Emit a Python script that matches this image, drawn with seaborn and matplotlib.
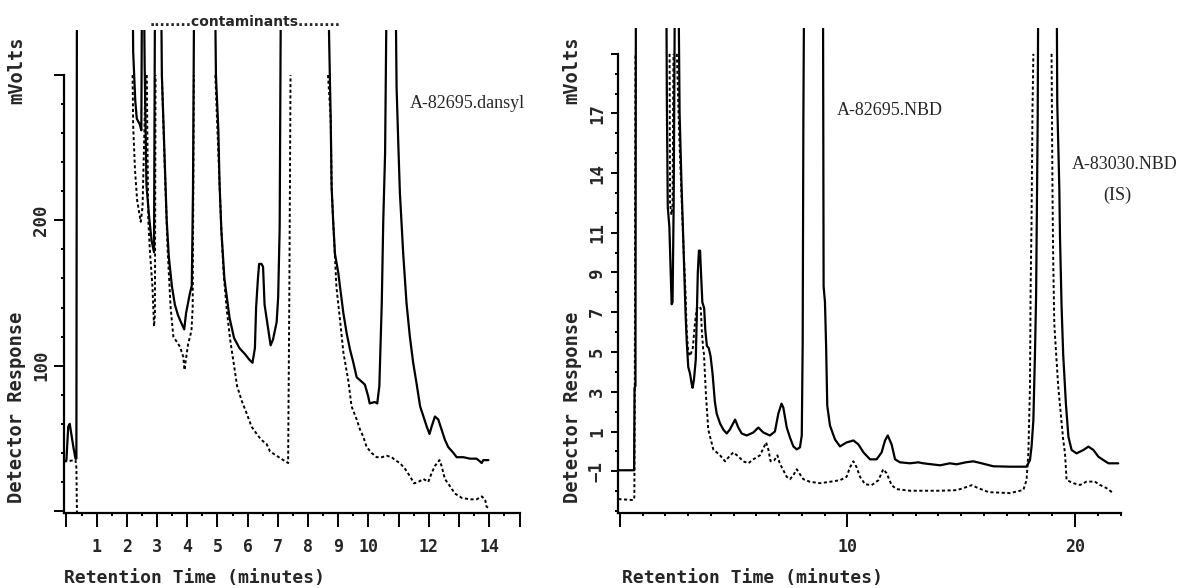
import numpy as np
import pandas as pd
import seaborn as sns
import matplotlib.pyplot as plt
from matplotlib.ticker import FixedLocator, MultipleLocator

sns.set_style('ticks')
plt.rcParams['font.family'] = ['DejaVu Sans Mono', 'DejaVu Sans']

nan = np.nan

# left chromatogram (dansyl), mVolts vs minutes; nan = trace off scale
left_solid_t = [-0.08, 0.0, 0.06, 0.11, 0.17, 0.23, 0.30, 0.33, 0.35, nan,
                2.18, 2.21, 2.28, 2.33, 2.43, 2.48, 2.51, nan,
                2.55, 2.59, 2.65, 2.74, 2.82, 2.90, 2.94, nan,
                3.12, 3.16, 3.24, 3.32, 3.39, 3.49, 3.59, 3.69, 3.79, 3.90, 3.96, 4.09, 4.15, 4.19, 4.24, nan,
                4.90, 4.95, 5.03, 5.07, 5.13, 5.23, 5.40, 5.55, 5.73, 5.91, 6.06, 6.16, 6.24, 6.28, 6.34,
                6.38, 6.46, 6.51, 6.56, 6.66, 6.76, 6.84, 6.96, 7.01, 7.06, 7.11, nan,
                8.64, 8.70, 8.75, 8.78, 8.83, 8.89, 9.00, 9.06, 9.17, 9.28, 9.39, 9.50, 9.61, 9.72, 9.88,
                9.99, 10.04, 10.21, 10.29, 10.36, 10.44, 10.49, 10.55, 10.62, nan,
                10.88, 10.93, 10.99, 11.04, 11.15, 11.26, 11.37, 11.48, 11.59, 11.71, 11.82, 11.93, 12.02,
                12.09, 12.20, 12.31, 12.42, 12.53, 12.64, 12.81, 12.92, 13.14, 13.36, 13.58, 13.75, 13.80, 13.97]
left_solid_v = [34, 35, 58, 60, 52, 44, 36, 36, 400, nan,
                400, 316, 282, 270, 266, 262, 400, nan,
                400, 307, 224, 202, 186, 178, 400, nan,
                400, 300, 250, 200, 175, 155, 142, 135, 130, 125, 136, 150, 155, 220, 400, nan,
                400, 300, 262, 225, 193, 160, 133, 119, 112, 108, 104, 102, 112, 140, 160,
                170, 170, 168, 142, 128, 114, 118, 130, 147, 195, 400, nan,
                400, 322, 269, 223, 200, 177, 164, 154, 136, 122, 111, 102, 92, 90, 87,
                79, 74, 75, 74, 86, 143, 200, 246, 400, nan,
                400, 292, 251, 219, 177, 143, 120, 102, 88, 72, 65, 58, 53,
                58, 65, 63, 56, 49, 44, 40, 37, 37, 36, 36, 33, 35, 35]

left_dot_t = [-0.08, 0.30, 0.33, 0.36, nan,
              2.19, 2.21, 2.27, 2.34, 2.46, 2.52, 2.58, 2.62, nan,
              2.66, 2.71, 2.77, 2.85, 2.90, 2.93, 2.95, nan,
              3.16, 3.25, 3.35, 3.45, 3.54, 3.76, 3.87, 3.91, 3.96, 4.03, 4.14, 4.18, 4.22, nan,
              4.93, 5.00, 5.07, 5.13, 5.20, 5.30, 5.42, 5.55, 5.65, 5.80, 5.97, 6.13, 6.30, 6.45,
              6.63, 6.74, 6.96, 7.18, 7.34, 7.38, 7.42, nan,
              8.66, 8.72, 8.75, 8.78, 8.83, 8.94, 9.06, 9.17, 9.33, 9.44, 9.61, 9.72, 9.83, 9.94,
              10.10, 10.27, 10.44, 10.60, 10.77, 10.88, 11.04, 11.21, 11.37, 11.51, 11.65, 11.82,
              11.98, 12.09, 12.20, 12.35, 12.42, 12.53, 12.70, 12.86, 13.09, 13.36, 13.58, 13.75,
              13.86, 13.91, 13.97]
left_dot_v = [34, 35, 30, -20, nan,
              300, 265, 235, 214, 199, 209, 260, 300, nan,
              300, 200, 177, 154, 127, 135, 300, nan,
              300, 240, 180, 140, 120, 113, 106, 97, 105, 115, 124, 140, 300, nan,
              300, 262, 225, 193, 165, 140, 118, 100, 86, 76, 67, 58, 53, 49,
              46, 41, 38, 35, 33, 150, 300, nan,
              300, 280, 269, 223, 200, 154, 131, 109, 90, 72, 63, 56, 51, 44,
              40, 37, 37, 38, 37, 35, 33, 29, 24, 19, 20, 22,
              20, 26, 31, 35, 31, 22, 17, 12, 9, 8, 8, 10,
              8, 3, 2]

# right chromatogram (NBD)
right_solid_t = [-0.07, 0.62, 0.64, 0.68, 0.70, nan,
                 2.03, 2.06, 2.10, 2.17, 2.27, 2.31, 2.36, 2.42, nan,
                 2.56, 2.62, 2.70, 2.80, 2.88, 2.93, 3.00, 3.08, 3.15, 3.19, 3.25, 3.33, 3.38, 3.42,
                 3.47, 3.52, 3.56, 3.62, 3.70, 3.75, 3.82, 3.90, 3.98, 4.07, 4.17, 4.25, 4.40, 4.54,
                 4.69, 4.83, 5.06, 5.20, 5.35, 5.57, 5.86, 6.08, 6.30, 6.59, 6.81, 6.96, 7.10, 7.18,
                 7.33, 7.47, 7.62, 7.77, 7.91, 7.99, 8.03, 8.06, 8.10, nan,
                 8.92, 8.95, 9.01, 9.06, 9.11, 9.23, 9.45, 9.67, 9.96, 10.26, 10.48, 10.70, 10.99,
                 11.28, 11.50, 11.65, 11.77, 11.94, 12.09, 12.31, 12.75, 13.11, 13.33, 14.07, 14.50,
                 14.80, 15.20, 15.53, 15.90, 16.41, 17.14, 17.87, 18.02, 18.09, 18.17, 18.24, 18.29,
                 18.32, 18.36, 18.39, nan,
                 19.19, 19.22, 19.31, 19.34, 19.41, 19.48, 19.60, 19.71, 19.85, 20.07, 20.37, 20.59,
                 20.81, 21.03, 21.25, 21.47, 21.90]
right_solid_v = [-0.95, -0.95, 3.2, 3.3, 25, nan,
                 25, 17.7, 12.3, 11.3, 7.4, 7.5, 12.5, 25, nan,
                 25, 17, 13.6, 10, 7, 5.6, 4.25, 3.9, 3.4, 3.2, 3.6, 4.6, 7.0, 9.0,
                 10.1, 10.1, 9.0, 7.5, 7.2, 6.1, 5.3, 5.2, 4.8, 3.9, 2.5, 1.9, 1.4, 1.1,
                 0.9, 1.1, 1.6, 1.2, 0.9, 0.8, 0.95, 1.2, 0.95, 0.8, 1.0, 1.9, 2.4, 2.2,
                 1.2, 0.7, 0.25, 0.1, 0.2, 0.8, 5.4, 16.6, 25, nan,
                 25, 8.3, 7.5, 5.3, 2.3, 1.3, 0.6, 0.25, 0.45, 0.55, 0.35, -0.05, -0.4,
                 -0.4, -0.05, 0.55, 0.8, 0.35, -0.4, -0.55, -0.6, -0.55, -0.6, -0.7, -0.6,
                 -0.65, -0.55, -0.5, -0.6, -0.75, -0.77, -0.77, -0.44, 0.23, 1.57, 4.9, 7.8,
                 11.6, 16.7, 25, nan,
                 25, 17.5, 13.3, 10.8, 7.3, 4.9, 2.4, 0.74, 0.07, -0.1, 0.07, 0.24,
                 0.07, -0.27, -0.44, -0.6, -0.6]

right_dot_t = [-0.07, 0.60, 0.63, 0.65, 0.68, nan,
               2.18, 2.20, 2.26, 2.31, 2.35, nan,
               2.50, 2.60, 2.70, 2.80, 2.88, 2.93, 3.00, 3.08, 3.20, 3.30, 3.38, 3.45, 3.55, 3.60,
               3.66, 3.69, 3.78, 3.88, 4.10, 4.40, 4.62, 4.77, 4.98, 5.20, 5.42, 5.64, 5.86, 6.15,
               6.30, 6.42, 6.52, 6.62, 6.78, 6.92, 7.02, 7.33, 7.47, 7.62, 7.77, 7.91, 8.06, 8.35,
               8.79, 9.23, 9.67, 9.96, 10.11, 10.26, 10.40, 10.55, 10.77, 11.06, 11.36, 11.57,
               11.72, 11.94, 12.16, 12.75, 13.33, 14.07, 14.80, 15.09, 15.46, 15.75, 16.20, 17.14,
               17.73, 17.87, 17.95, 18.02, 18.05, 18.09, 18.13, 18.17, nan,
               18.97, 19.01, 19.04, 19.09, 19.26, 19.48, 19.56, 19.63, 19.93, 20.22, 20.51, 20.87,
               21.10, 21.39, 21.68]
right_dot_v = [-2.4, -2.45, -2.3, 3.0, 20, nan,
               20, 12.5, 11.9, 12.3, 20, nan,
               20, 16, 13, 10, 8, 6.1, 5.0, 4.8, 5.2, 6.5, 7.2, 7.3, 7.2, 6.0,
               5.1, 4.9, 2.8, 1.1, 0.1, -0.2, -0.5, -0.3, -0.05, -0.25, -0.5, -0.6, -0.4, -0.2,
               0.15, 0.45, 0.1, -0.5, -0.45, -0.2, -0.6, -1.28, -1.4, -1.2, -0.9, -1.15, -1.4, -1.53,
               -1.6, -1.53, -1.45, -1.28, -0.8, -0.5, -0.8, -1.28, -1.65, -1.7, -1.45, -0.9,
               -1.1, -1.7, -1.9, -1.98, -1.98, -1.98, -1.95, -1.85, -1.7, -1.85, -2.05, -2.1,
               -1.94, -1.44, -0.1, 3.25, 8.3, 11.6, 17.1, 20, nan,
               20, 13.1, 9.8, 6.4, 3.3, 0.6, -0.1, -1.44, -1.6, -1.69, -1.52, -1.52,
               -1.69, -1.85, -2.1]

left_ticks_labels = ['', '1', '2', '3', '4', '5', '6', '7', '8', '9', '10', '', '12', '', '14', '']
left_y_labels = ['', '100', '200', '']
right_y_ticks = [-1, 1, 3, 5, 7, 9, 11, 14, 17, 20]
right_y_labels = ['\u22121', '1', '3', '5', '7', '9', '11', '14', '17', '']

W, H = 1184, 588


def frame(t, v):
    df = pd.DataFrame({'time': t, 'resp': v})
    df['seg'] = df['resp'].isna().cumsum()
    return df.dropna()


def fig_box(x0, y0, x1, y1):
    # pixel box (top-left origin) -> figure fraction
    return [x0 / W, 1 - y1 / H, (x1 - x0) / W, (y1 - y0) / H]


def draw(ax, t, v, dotted=False):
    kw = dict(linestyle=(0, (1.6, 1.3)), linewidth=1.4) if dotted else dict(linewidth=1.6)
    sns.lineplot(data=frame(t, v), x='time', y='resp', units='seg', estimator=None,
                 sort=False, color='black', ax=ax, **kw)


fig = plt.figure(figsize=(W / 100, H / 100), dpi=100)
ax1 = fig.add_axes(fig_box(64, 30, 519.5, 513))
ax2 = fig.add_axes(fig_box(618.4, 28, 1120.5, 513))

draw(ax1, left_solid_t, left_solid_v)
draw(ax1, left_dot_t, left_dot_v, dotted=True)
draw(ax2, right_solid_t, right_solid_v)
draw(ax2, right_dot_t, right_dot_v, dotted=True)

ax1.set_xlim(-0.08, 15.0)
ax1.set_ylim(-1.4, 331)
ax2.set_xlim(-0.07, 22.0)
ax2.set_ylim(-3.1, 21.3)

for ax in (ax1, ax2):
    sns.despine(ax=ax)
    ax.set_xlabel('')
    ax.set_ylabel('')
    ax.patch.set_alpha(0)
    for s in ('left', 'bottom'):
        ax.spines[s].set_linewidth(1.6)
        ax.spines[s].set_color('black')
    ax.tick_params(which='both', direction='out', color='black', width=1.4)
    ax.tick_params(axis='x', which='major', length=10, pad=8, labelsize=12)
    ax.tick_params(axis='x', which='minor', length=2.5)
    ax.tick_params(axis='y', labelrotation=90, labelsize=12.5)

ax1.spines['left'].set_bounds(-1.4, 300)
ax2.spines['left'].set_bounds(-3.1, 20)

ax1.xaxis.set_major_locator(FixedLocator(range(16)))
ax1.set_xticklabels(left_ticks_labels, fontweight='bold')
ax1.xaxis.set_minor_locator(MultipleLocator(0.5))
ax1.yaxis.set_major_locator(FixedLocator([0, 100, 200, 300]))
ax1.set_yticklabels(left_y_labels, fontweight='bold', va='center')
ax1.yaxis.set_minor_locator(FixedLocator(range(0, 301, 20)))
ax1.tick_params(axis='y', which='major', length=7, pad=3)
ax1.tick_params(axis='y', which='minor', length=2)

ax2.xaxis.set_major_locator(FixedLocator([0, 10, 20]))
ax2.set_xticklabels(['', '10', '20'], fontweight='bold')
ax2.xaxis.set_minor_locator(MultipleLocator(1))
ax2.yaxis.set_major_locator(FixedLocator(right_y_ticks))
ax2.set_yticklabels(right_y_labels, fontweight='bold', va='center')
ax2.yaxis.set_minor_locator(FixedLocator(range(-3, 21)))
ax2.tick_params(axis='y', which='major', length=5, pad=4)
ax2.tick_params(axis='y', which='minor', length=2.5)


def ftext(px, py, s, **kw):
    fig.text(px / W, 1 - py / H, s, **kw)


mono = dict(fontsize=13.5, fontweight='bold', rotation=90, ha='center', va='center')
for xpx in (17, 572):
    ftext(xpx, 407, 'Detector Response', **mono)
    ftext(xpx, 70, 'mVolts', **mono)
ftext(64, 578, 'Retention Time (minutes)', fontsize=13, fontweight='bold', va='center')
ftext(622, 578, 'Retention Time (minutes)', fontsize=13, fontweight='bold', va='center')

ftext(245, 22, '........contaminants........', family='DejaVu Sans', fontsize=10,
      fontweight='bold', ha='center', va='center')
serif = dict(family='Liberation Serif', fontsize=13, va='center')
ftext(410, 103, 'A-82695.dansyl', **serif)
ftext(837, 111, 'A-82695.NBD', **serif)
ftext(1072, 165, 'A-83030.NBD', **serif)
ftext(1117, 195, '(IS)', ha='center', **serif)

fig.savefig('out.png', dpi=100)
